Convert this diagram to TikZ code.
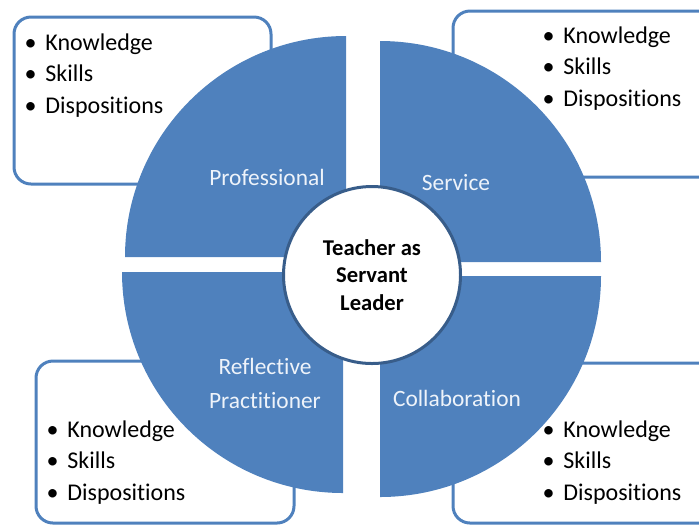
\documentclass[tikz,border=0pt]{standalone}
\usepackage{fontspec}
\setmainfont{Carlito}[Ligatures=NoCommon]
\usepackage{xcolor}
\definecolor{pieblue}{HTML}{4F81BD}
\definecolor{rimblue}{HTML}{385D8A}
\definecolor{labelwhite}{HTML}{EEF3FA}
\newcommand{\bul}[1]{\llap{\textbullet\hspace{4.4pt}}#1}
\tikzset{
  quarter/.style={fill=pieblue},
  listbox/.style={draw=pieblue, line width=1.5pt, rounded corners=8.5pt, fill=white},
  item/.style={inner sep=0pt, anchor=base west, font=\fontsize{12}{14}\selectfont},
  part/.style={inner sep=0pt, text=labelwhite, align=center, font=\fontsize{11.7}{17}\selectfont},
  hub/.style={circle, draw=rimblue, line width=1.5pt, fill=white, minimum size=88.5pt,
    inner sep=0pt, align=center, font=\bfseries\fontsize{11.3}{13.75}\selectfont}
}

\begin{document}
\begin{tikzpicture}[x=0.5pt, y=-0.5pt]
			\clip (0,0) rectangle (699,527);
			% boxes behind the pie
			\draw[listbox] (14,17) rectangle (271,184);
			\draw[listbox] (453,11) rectangle (730,177);
			\draw[listbox] (36,361) rectangle (294,523);
			\draw[listbox] (453,363) rectangle (730,523);
			% the four quarters
			\fill[quarter] (346,257) -- (125,257) arc[start angle=180, end angle=270, radius=221] -- cycle;
			\fill[quarter] (380,262) -- (380,41) arc[start angle=270, end angle=360, radius=221] -- cycle;
			\fill[quarter] (380,276) -- (601,276) arc[start angle=0, end angle=90, radius=221] -- cycle;
			\fill[quarter] (343,272) -- (343,493) arc[start angle=90, end angle=180, radius=221] -- cycle;
			\node[part, anchor=base] (professional) at (267,185) {Professional};
			\node[part, anchor=base] (service) at (456,190) {Service};
			\node[part] (reflective) at (265,383) {Reflective\\Practitioner};
			\node[part, anchor=base] (collaboration) at (457,406) {Collaboration};
			\node[hub] (leader) at (372,275) {\raisebox{-3.5pt}{\shortstack{Teacher as\\[3pt]Servant\\[3pt]Leader}}};
			% lists
			\foreach \word [count=\i] in {Knowledge,Skills,Dispositions} {
				\node[item] (tl-\i) at (45,{50+31.5*(\i-1)}) {\bul{\word}};
				\node[item] (tr-\i) at (563,{43+31.5*(\i-1)}) {\bul{\word}};
				\node[item] (bl-\i) at (67,{437+31.5*(\i-1)}) {\bul{\word}};
				\node[item] (br-\i) at (563,{437+31.5*(\i-1)}) {\bul{\word}};
			}
		\end{tikzpicture}
\end{document}
